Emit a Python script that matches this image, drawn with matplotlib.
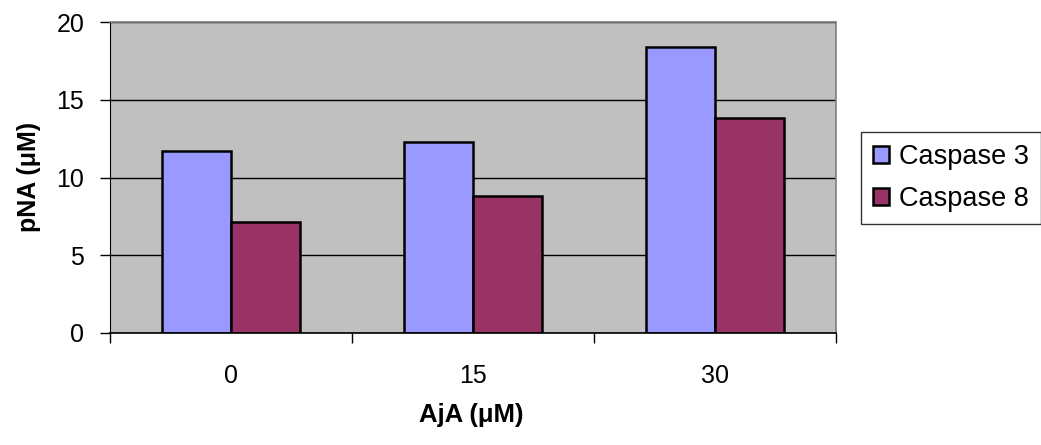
import matplotlib
matplotlib.use("Agg")
import matplotlib.pyplot as plt
import numpy as np

plt.rcParams['font.family'] = ['Liberation Sans', 'DejaVu Sans']

categories = ["0", "15", "30"]
caspase3 = [11.7, 12.3, 18.4]
caspase8 = [7.15, 8.8, 13.85]
series_names = ["Caspase 3", "Caspase 8"]
y_ticks = [0, 5, 10, 15, 20]

fig = plt.figure(figsize=(10.41, 4.45), dpi=100)
ax = fig.add_axes([110 / 1041, 1 - 333 / 445, 726 / 1041, 311 / 445])
ax.set_facecolor("#C0C0C0")

x = np.arange(len(categories))
bw = 0.287
b1 = ax.bar(x - bw / 2, caspase3, bw, color="#9999FF", edgecolor="black",
            linewidth=1.8, label=series_names[0], zorder=3)
b2 = ax.bar(x + bw / 2, caspase8, bw, color="#993366", edgecolor="black",
            linewidth=1.8, label=series_names[1], zorder=3)

ax.set_xlim(-0.5, 2.5)
ax.set_ylim(0, 20)
ax.set_yticks(y_ticks)
ax.yaxis.grid(True, color="black", linewidth=1.0, zorder=1)
ax.set_axisbelow(True)

ax.set_xticks(x)
ax.set_xticklabels(categories)
ax.set_xticks([-0.5, 0.5, 1.5, 2.5], minor=True)
ax.tick_params(axis="x", which="major", length=0, pad=22, labelsize=18)
ax.tick_params(axis="x", which="minor", length=7, width=1, color="black", direction="out")
ax.tick_params(axis="y", length=7, width=1, direction="out", labelsize=18, pad=11.5)

for s in ["top", "right"]:
    ax.spines[s].set_color("#808080")
    ax.spines[s].set_linewidth(1.2)
ax.spines["left"].set_color("black")
ax.spines["bottom"].set_color("black")
ax.spines["bottom"].set_linewidth(1.2)
ax.spines["bottom"].set_zorder(4)

fig.text(29 / 1041, 1 - 177 / 445, "pNA (\u03bcM)", rotation=90, ha="center",
         va="center", fontsize=18, fontweight="bold")
fig.text(471 / 1041, 1 - 415 / 445, "AjA (\u03bcM)", ha="center", va="center",
         fontsize=18.5, fontweight="bold")

leg = fig.legend(handles=[b1, b2], labels=series_names,
                 loc="center left", bbox_to_anchor=(861 / 1041, 1 - 178 / 445),
                 fontsize=19.5, frameon=True, fancybox=False, edgecolor="black",
                 handlelength=0.57, handleheight=0.57, handletextpad=0.38,
                 borderpad=0.45, labelspacing=0.6, borderaxespad=0)
leg.get_frame().set_linewidth(1.0)

fig.savefig("out.png", dpi=100, facecolor="white")
